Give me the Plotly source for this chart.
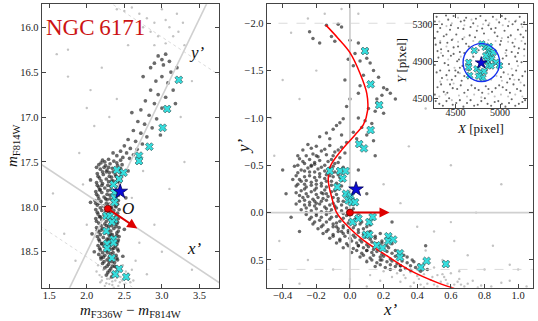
import plotly.graph_objects as go

W, H = 538, 321
FONT = "Liberation Serif"

# ---------------- data: left panel (CMD) ----------------
LEFT_DARK = [
 (2.95,16.32),(3.0,16.36),(3.05,16.3),(2.9,16.4),(3.02,16.42),(3.1,16.38),(2.85,16.45),(3.12,16.5),(3.0,16.55),
 (3.08,16.62),(2.92,16.6),(3.15,16.7),(2.85,16.7),(2.95,16.75),(3.05,16.78),(2.78,16.82),(2.9,16.85),(3.0,16.9),
 (2.72,16.92),(2.83,16.98),(2.93,17.02),(2.68,17.05),(2.77,17.08),(2.87,17.12),(2.62,17.15),(2.72,17.18),(2.8,17.22),
 (2.55,17.25),(2.65,17.27),(2.74,17.3),(2.5,17.32),(2.58,17.35),(2.67,17.36),(2.45,17.38),(2.53,17.4),(2.62,17.42),
 (2.4,17.43),(2.48,17.45),(2.57,17.46),(3.2,16.45),(2.75,16.55),(3.18,16.85),(2.6,16.95),(2.98,17.2),(2.35,17.4),
 (2.21,17.48),(2.29,17.47),(2.36,17.49),(2.45,17.48),(2.16,17.53),(2.25,17.54),(2.31,17.52),(2.41,17.54),(2.47,17.53),
 (2.18,17.58),(2.27,17.59),(2.34,17.57),(2.43,17.59),(2.14,17.63),(2.22,17.64),(2.3,17.62),(2.38,17.64),(2.46,17.63),
 (2.17,17.68),(2.26,17.69),(2.33,17.67),(2.41,17.69),(2.13,17.73),(2.21,17.74),(2.29,17.72),(2.37,17.74),(2.44,17.73),
 (2.16,17.78),(2.24,17.79),(2.32,17.77),(2.4,17.79),(2.12,17.83),(2.2,17.84),(2.28,17.82),(2.36,17.84),(2.43,17.83),
 (2.15,17.88),(2.23,17.89),(2.31,17.87),(2.39,17.89),(2.11,17.93),(2.19,17.94),(2.27,17.92),(2.35,17.94),(2.42,17.93),
 (2.14,17.98),(2.22,17.99),(2.3,17.97),(2.38,17.99),(2.12,18.03),(2.2,18.04),(2.28,18.02),(2.36,18.04),(2.43,18.03),
 (2.15,18.08),(2.23,18.09),(2.31,18.07),(2.39,18.09),(2.12,18.13),(2.2,18.14),(2.28,18.12),(2.35,18.14),(2.42,18.13),
 (2.16,18.18),(2.24,18.19),(2.32,18.17),(2.4,18.19),(2.13,18.23),(2.21,18.24),(2.29,18.22),(2.36,18.24),(2.43,18.23),
 (2.16,18.28),(2.24,18.29),(2.32,18.27),(2.4,18.29),(2.14,18.33),(2.22,18.34),(2.3,18.32),(2.37,18.34),(2.43,18.33),
 (2.17,18.38),(2.25,18.39),(2.33,18.37),(2.41,18.39),(2.15,18.43),(2.23,18.44),(2.31,18.42),(2.38,18.44),
 (2.18,18.48),(2.26,18.49),(2.34,18.47),(2.42,18.49),(2.16,18.53),(2.24,18.54),(2.32,18.52),(2.39,18.54),
 (2.19,18.58),(2.27,18.59),(2.35,18.57),(2.41,18.59),(2.21,18.63),(2.29,18.64),(2.37,18.62),(2.24,18.68),(2.32,18.69),
 (2.39,18.67),(2.28,18.73),(2.35,18.74),
 (2.19,17.51),(2.26,17.61),(2.35,17.71),(2.18,17.81),(2.25,17.91),(2.33,18.01),(2.18,18.11),(2.26,18.21),(2.34,18.31),
 (2.2,18.41),(2.28,18.51),(2.3,18.61),(2.23,17.56),(2.39,17.66),(2.2,17.76),(2.38,17.86),(2.17,17.96),(2.25,18.06),
 (2.38,18.16),(2.19,18.26),(2.27,18.36),(2.36,18.46),(2.22,18.56),(2.34,18.66),
 (2.05,17.7),(2.52,17.9),(2.07,18.3),(2.5,18.25),(2.05,17.95),(2.55,17.6),(2.1,18.5),(2.48,18.55),
 (2.24,17.5),(2.4,17.51),(2.13,17.56),(2.29,17.56),(2.45,17.57),(2.21,17.61),(2.35,17.61),(2.15,17.66),(2.3,17.66),
 (2.44,17.67),(2.19,17.71),(2.33,17.71),(2.41,17.72),(2.14,17.76),(2.28,17.76),(2.43,17.77),(2.17,17.81),(2.32,17.81),
 (2.4,17.82),(2.13,17.86),(2.27,17.86),(2.42,17.87),(2.16,17.91),(2.31,17.91),(2.38,17.92),(2.12,17.96),(2.26,17.96),
 (2.41,17.97),(2.18,18.01),(2.32,18.01),(2.39,18.0),(2.14,18.06),(2.27,18.06),(2.41,18.07),(2.17,18.11),(2.3,18.11),
 (2.38,18.12),(2.13,18.16),(2.26,18.16),(2.41,18.17),(2.19,18.21),(2.33,18.21),(2.39,18.22),(2.14,18.26),(2.28,18.26),
 (2.42,18.27),(2.18,18.31),(2.32,18.31),(2.4,18.32),(2.16,18.36),(2.29,18.36),(2.42,18.37),(2.2,18.41),(2.34,18.41),
 (2.4,18.42),(2.17,18.46),(2.3,18.46),(2.41,18.47),(2.21,18.51),(2.35,18.51),(2.19,18.56),(2.3,18.56),(2.4,18.57),
 (2.23,18.61),(2.34,18.61),(2.27,18.66),(2.37,18.66),(2.3,18.71),(2.26,18.76),(2.33,18.78),
]
LEFT_LIGHT = [
 (2.15,18.65),(2.22,18.7),(2.3,18.8),(2.38,18.82),(2.45,18.78),(2.52,18.8),(2.2,18.78),(2.26,18.85),(2.34,18.87),
 (2.42,18.88),(2.5,18.86),(2.58,18.84),(2.18,18.84),(2.28,18.75),(2.4,18.73),(2.46,18.7),(2.55,18.74),(2.62,18.82),
 (2.24,18.88),(2.36,18.9),(2.48,18.65),(2.6,18.7),(2.13,18.72),(2.32,18.68),(2.44,18.84),(2.3,18.86),(2.4,18.79),
 (2.2,18.82),(2.34,18.83),(2.47,18.82),(2.27,18.8),(2.52,18.72),(2.17,18.76),(2.42,18.76),
 (1.6,16.3),(1.75,16.55),(2.0,16.9),(2.1,17.1),(1.9,17.4),(2.4,16.8),(2.2,16.45),(1.55,17.85),(1.7,18.3),(1.85,18.6),
 (2.7,18.4),(2.9,18.2),(3.1,17.8),(3.3,17.5),(2.6,17.9),(2.65,18.6),(2.8,18.75),(3.4,18.7),(3.0,18.5),(2.55,16.2),
 (2.3,17.0),(2.05,16.7),(1.95,17.75),(2.0,18.2),(2.75,17.6),(3.25,17.0),(3.4,16.6),(3.3,16.2),(1.75,16.25),
 (2.7,15.85),(2.8,15.9),(2.9,15.95),(3.0,15.8),(3.05,15.92),(3.1,16.0),(2.95,16.1),(2.85,16.05),(3.15,16.1),
 (2.75,16.0),(3.2,15.85),(2.6,15.78),(2.5,15.82),(2.4,15.8),(2.9,16.2),(3.05,16.18),(3.22,16.05),(3.28,15.95),
]
LEFT_CYAN = [
 (3.225,16.586),(3.07,16.91),(3.01,17.12),(2.833,17.33),(2.695,17.43),(2.695,17.49),(2.40,17.59),(2.49,17.62),
 (2.43,17.69),(2.356,17.75),(2.37,17.84),(2.37,17.9),(2.37,17.95),(2.26,18.10),(2.31,18.10),(2.365,18.14),
 (2.334,18.17),(2.26,18.27),(2.356,18.36),(2.356,18.40),(2.27,18.41),(2.27,18.46),(2.334,18.57),(2.43,18.69),
 (2.38,18.75),(2.525,18.78),
]
LEFT_STAR = (2.445, 17.83)
ORIGIN_CMD = (2.28, 18.02)
ARROW_TIP_CMD = (2.672, 18.24)
XP_DIR_CMD = (1.0, 0.555)        # x' axis direction in (colour, mag)
YP_DIR_CMD = (-0.5045, 0.875)    # one unit of y' in (colour, mag)
YP_CUTS = [-2.0, 0.6]

# ---------------- data: right panel (rotated frame) ----------------
RIGHT_DARK = [
 (-0.14,-1.98),(-0.07,-1.99),(-0.05,-1.96),(-0.24,-1.91),(-0.22,-1.84),(-0.18,-1.79),(-0.11,-1.86),(-0.09,-1.81),
 (0.0,-1.82),(0.05,-1.79),(0.03,-1.68),(0.06,-1.6),(0.02,-1.55),(0.1,-1.63),(0.12,-1.58),(0.14,-1.5),(0.17,-1.43),
 (0.2,-1.32),(0.22,-1.3),(0.19,-1.24),(0.16,-1.2),(0.06,-1.34),(0.05,-1.26),(0.0,-1.2),(-0.02,-1.12),(-0.04,-0.99),
 (0.05,-1.0),(0.09,-0.97),(0.13,-0.94),(0.15,-1.07),(0.11,-1.1),(-0.06,-0.95),(0.07,-0.9),(-0.08,-0.92),(-0.1,-0.88),
 (-0.03,-1.4),(0.08,-1.45),(0.13,-1.36),(0.24,-1.26),(0.1,-1.72),(-0.01,-1.62),(0.16,-1.16),(0.2,-1.05),(0.02,-0.85),
 (-0.14,-0.84),(-0.05,-0.82),(0.1,-0.82),(0.04,-0.78),(-0.12,-0.78),(-0.18,-0.8),(0.14,-0.76),(-0.02,-0.74),(0.27,-1.2),
 (-0.25,-0.72),(-0.2,-0.7),(-0.12,-0.71),(-0.05,-0.69),(-0.28,-0.66),(-0.17,-0.65),(-0.09,-0.64),(-0.22,-0.62),
 (-0.14,-0.61),(-0.03,-0.63),(-0.31,-0.6),(-0.3,-0.57),(-0.24,-0.56),(-0.18,-0.55),(-0.11,-0.56),(-0.06,-0.58),
 (-0.27,-0.52),(-0.21,-0.51),(-0.15,-0.5),(-0.09,-0.52),(-0.33,-0.49),(-0.25,-0.47),(-0.19,-0.46),(-0.12,-0.47),
 (-0.04,-0.48),(-0.29,-0.45),(-0.31,-0.42),(-0.24,-0.43),(-0.18,-0.41),(-0.13,-0.42),(-0.07,-0.4),(-0.27,-0.38),
 (-0.21,-0.37),(-0.15,-0.36),(-0.1,-0.38),(-0.34,-0.35),(-0.29,-0.33),(-0.23,-0.32),(-0.17,-0.31),(-0.11,-0.33),
 (-0.05,-0.34),(-0.2,-0.3),(-0.32,-0.28),(-0.26,-0.27),(-0.2,-0.26),(-0.14,-0.27),(-0.08,-0.25),(-0.29,-0.23),
 (-0.23,-0.22),(-0.17,-0.21),(-0.11,-0.22),(-0.03,-0.2),(-0.3,-0.18),(-0.25,-0.17),(-0.19,-0.16),(-0.13,-0.17),
 (-0.07,-0.15),(-0.22,-0.14),(-0.3,-0.12),(-0.24,-0.11),(-0.17,-0.12),(-0.1,-0.1),(-0.04,-0.12),(-0.27,-0.08),
 (-0.21,-0.07),(-0.15,-0.06),(-0.09,-0.07),(-0.02,-0.05),(-0.29,-0.03),(-0.23,-0.02),(-0.17,-0.01),(-0.11,-0.03),
 (-0.05,-0.02),(0.02,-0.04),(-0.26,0.02),(-0.2,0.03),(-0.14,0.02),(-0.08,0.04),(-0.02,0.03),(0.04,0.05),(-0.24,0.07),
 (-0.18,0.08),(-0.12,0.07),(-0.06,0.09),(0.0,0.08),(0.07,0.1),(-0.22,0.12),(-0.16,0.13),(-0.1,0.12),(-0.04,0.14),
 (0.03,0.13),(0.1,0.15),(-0.19,0.17),(-0.13,0.18),(-0.07,0.17),(-0.01,0.19),(0.05,0.18),(0.12,0.2),(-0.16,0.22),
 (-0.1,0.23),(-0.04,0.22),(0.02,0.24),(0.08,0.23),(0.15,0.25),(-0.12,0.27),(-0.06,0.28),(0.0,0.27),(0.06,0.29),
 (0.12,0.28),(0.19,0.3),(-0.08,0.32),(-0.02,0.33),(0.04,0.32),(0.1,0.34),(0.16,0.33),(0.22,0.35),(-0.04,0.37),
 (0.02,0.38),(0.08,0.37),(0.14,0.39),(0.2,0.38),(0.27,0.4),(0.01,0.42),(0.07,0.43),(0.13,0.42),(0.19,0.44),
 (0.25,0.43),(0.32,0.45),(0.06,0.47),(0.12,0.48),(0.18,0.47),(0.24,0.49),(0.3,0.48),(0.37,0.5),(0.1,0.52),
 (0.16,0.53),(0.22,0.52),(0.28,0.54),(0.34,0.53),(0.41,0.55),(0.15,0.57),(0.21,0.58),(0.27,0.57),(0.33,0.59),
 (0.39,0.58),(0.46,0.6),(-0.4,-0.45),(-0.38,-0.2),(0.05,-0.45),(0.1,-0.2),(0.25,0.1),(-0.35,0.05),(-0.3,0.2),
 (0.45,0.35),(0.15,-0.6),(-0.2,-0.6),(-0.27,-0.3),(-0.14,-0.4),(-0.2,-0.1),(-0.12,0.0),(-0.05,0.2),(0.05,0.35),
 (0.18,0.5),(0.3,0.56),(-0.16,-0.2),(-0.23,-0.5),(-0.08,0.15),(0.1,0.4),
 (-0.23,-0.68),(-0.15,-0.67),(-0.07,-0.66),(-0.26,-0.6),(-0.19,-0.59),(-0.1,-0.6),(-0.28,-0.54),(-0.21,-0.53),
 (-0.13,-0.54),(-0.07,-0.53),(-0.31,-0.5),(-0.23,-0.49),(-0.17,-0.48),(-0.1,-0.49),(-0.27,-0.44),(-0.21,-0.43),
 (-0.15,-0.44),(-0.09,-0.43),(-0.32,-0.39),(-0.24,-0.39),(-0.18,-0.38),(-0.12,-0.39),(-0.06,-0.37),(-0.3,-0.35),
 (-0.26,-0.34),(-0.2,-0.34),(-0.14,-0.33),(-0.08,-0.31),(-0.31,-0.3),(-0.23,-0.29),(-0.17,-0.28),(-0.11,-0.29),
 (-0.05,-0.28),(-0.27,-0.25),(-0.21,-0.24),(-0.15,-0.24),(-0.09,-0.23),(-0.32,-0.21),(-0.26,-0.2),(-0.2,-0.19),
 (-0.14,-0.2),(-0.08,-0.19),(-0.28,-0.16),(-0.16,-0.15),(-0.1,-0.16),(-0.27,-0.13),(-0.21,-0.12),(-0.14,-0.13),
 (-0.07,-0.12),(-0.32,-0.09),(-0.24,-0.08),(-0.18,-0.09),(-0.12,-0.08),(-0.05,-0.08),(0.01,-0.09),(-0.26,-0.05),
 (-0.2,-0.04),(-0.14,-0.04),(-0.08,-0.05),(-0.01,-0.01),(-0.26,0.0),(-0.2,0.01),(-0.14,0.0),(-0.04,0.01),(0.05,0.01),
 (-0.23,0.05),(-0.17,0.05),(-0.11,0.05),(-0.04,0.06),(0.03,0.07),(-0.21,0.1),(-0.14,0.1),(-0.08,0.11),(-0.01,0.11),
 (0.06,0.12),(0.12,0.13),(-0.17,0.15),(-0.1,0.15),(-0.04,0.16),(0.02,0.16),(0.08,0.17),(-0.14,0.2),(-0.07,0.2),
 (-0.01,0.21),(0.05,0.21),(0.11,0.22),(0.18,0.22),(-0.1,0.25),(-0.03,0.25),(0.03,0.26),(0.09,0.26),(0.15,0.27),
 (-0.06,0.3),(0.01,0.3),(0.07,0.31),(0.13,0.31),(0.19,0.32),(0.25,0.33),(-0.01,0.35),(0.05,0.35),(0.11,0.36),
 (0.17,0.36),(0.23,0.37),(0.04,0.4),(0.1,0.4),(0.16,0.41),(0.22,0.41),(0.29,0.42),(0.08,0.45),(0.14,0.45),(0.2,0.46),
 (0.27,0.46),(0.34,0.47),(0.13,0.5),(0.19,0.5),(0.25,0.51),(0.31,0.51),(0.38,0.52),(0.18,0.55),(0.24,0.55),
 (0.3,0.56),(0.36,0.56),(0.43,0.57),(0.24,0.6),(0.3,0.61),(0.36,0.61),(0.42,0.62),
]
RIGHT_LIGHT = [
 (0.2,0.62),(0.28,0.64),(0.36,0.63),(0.44,0.65),(0.52,0.66),(0.6,0.64),(0.25,0.68),(0.33,0.69),(0.41,0.7),
 (0.49,0.68),(0.57,0.71),(0.65,0.7),(0.73,0.72),(0.3,0.73),(0.38,0.74),(0.46,0.75),(0.54,0.73),(0.62,0.76),
 (0.7,0.75),(0.78,0.77),(0.36,0.78),(0.44,0.79),(0.52,0.78),(0.6,0.79),(0.68,0.78),(0.76,0.79),(0.84,0.78),
 (0.12,0.66),(0.18,0.72),(0.9,0.74),(0.45,0.4),(0.55,0.5),(0.62,0.3),(0.7,0.45),(0.8,0.6),(0.95,0.55),(0.5,0.2),
 (0.4,0.15),(0.6,0.1),(0.85,0.35),(0.3,-0.1),(0.2,-0.3),(-0.45,-0.6),(-0.42,0.3),(-0.47,-1.0),(-0.3,-1.2),
 (0.35,-0.7),(0.45,-1.1),(0.6,-0.5),(0.75,0.0),(0.9,-0.3),(1.0,0.6),(-0.25,0.5),(-0.1,0.6),(0.1,0.5),(-0.2,-1.5),
 (0.3,-1.6),(-0.35,-1.9),(-0.15,-2.1),(-0.05,-2.15),(0.05,-2.1),(-0.25,-2.05),(-0.4,-1.4),(0.55,0.65),
 (0.95,0.72),(1.05,0.78),(0.0,0.7),(0.1,0.78),(-0.3,0.75),(0.4,0.6),(0.5,0.58),(0.65,0.62),
 (0.32,0.66),(0.4,0.67),(0.48,0.71),(0.56,0.68),(0.64,0.73),(0.42,0.76),(0.5,0.76),(0.58,0.75),(0.66,0.76),
]
RIGHT_CYAN = [
 (0.089,-1.707),(0.123,-1.355),(0.174,-1.136),(0.123,-0.872),(0.055,-0.724),(0.083,-0.678),(-0.119,-0.44),
 (-0.059,-0.44),(-0.026,-0.44),(-0.043,-0.36),(-0.075,-0.27),(-0.024,-0.2),(0.004,-0.175),(-0.01,-0.13),
 (0.01,-0.11),(0.03,-0.11),(0.016,0.1),(0.05,0.063),(0.115,0.1),(0.135,0.046),(0.095,0.233),(0.115,0.233),
 (0.228,0.25),(0.228,0.3),(0.257,0.285),(0.159,0.345),(0.194,0.374),(0.297,0.43),(0.297,0.472),(0.456,0.51),
 (0.422,0.578),(0.57,0.543),
]
RIGHT_STAR = (0.036, -0.246)
ARROW_TIP_ROT = (0.235, 0.0)
FIDUCIAL = [
 (-0.143,-1.98),(-0.07,-1.84),(0.0,-1.69),(0.06,-1.47),(0.1,-1.26),(0.105,-1.08),(0.08,-0.93),(0.03,-0.82),
 (-0.05,-0.66),(-0.119,-0.48),(-0.129,-0.34),(-0.109,-0.165),(-0.079,0.0),(-0.01,0.15),(0.079,0.29),
 (0.198,0.43),(0.357,0.61),(0.535,0.75),(0.62,0.8),
]

# ---------------- data: inset (pixel map) ----------------
INSET_DARK = [
 (4290,5380),(4350,5300),(4420,5350),(4480,5390),(4560,5330),(4620,5370),(4700,5310),(4780,5390),(4840,5340),
 (4920,5380),(4990,5320),(5060,5360),(5140,5300),(5220,5380),(5270,5320),(4300,5220),(4370,5170),(4440,5240),
 (4510,5190),(4590,5250),(4660,5180),(4740,5230),(4820,5200),(4900,5250),(4970,5170),(5050,5230),(5120,5180),
 (5200,5240),(5260,5160),(4280,5080),(4340,5030),(4410,5100),(4480,5050),(4550,5000),(4620,5090),(5000,5080),
 (5070,5020),(5140,5100),(5210,5040),(5280,5090),(4310,4940),(4380,4880),(4450,4960),(4520,4900),(4580,4850),
 (5030,4930),(5100,4870),(5170,4950),(5240,4890),(4290,4780),(4350,4720),(4430,4800),(4500,4740),(4570,4690),
 (5040,4780),(5110,4710),(5180,4800),(5250,4740),(4300,4620),(4370,4570),(4440,4650),(4520,4600),(4600,4560),
 (4680,4640),(4760,4590),(4840,4630),(4910,4570),(4990,4640),(5070,4590),(5150,4650),(5230,4580),(4280,4470),
 (4360,4420),(4430,4500),(4510,4450),(4590,4410),(4670,4480),(4750,4430),(4830,4500),(4900,4420),(4980,4470),
 (5060,4410),(5130,4490),(5210,4440),(5280,4480),(4700,4950),(4850,4800),(4760,5020),(4650,4800),(4880,4950),
 (4270,5330),(4330,5260),(4395,5395),(4450,5290),(4530,5260),(4600,5340),(4670,5270),(4730,5360),(4800,5255),
 (4870,5290),(4950,5260),(5020,5390),(5090,5280),(5170,5330),(5240,5300),(4270,5150),(4330,5100),(4400,5190),
 (4460,5130),(4530,5060),(4580,5140),(4650,5060),(4720,5160),(4940,5210),(5010,5120),(5090,5160),(5160,5060),
 (5230,5190),(5290,5230),(4300,5010),(4360,4960),(4420,5010),(4480,4980),(4540,4920),(4600,4990),(5070,4960),
 (5130,5000),(5200,4990),(5270,5030),(5020,4870),(5190,4900),(4420,4860),(4500,4800),(4550,4830),(4270,4860),
 (4330,4800),(4400,4750),(4460,4700),(4530,4780),(4600,4740),(5010,4730),(5080,4670),(5140,4750),(5210,4700),
 (5280,4790),(4270,4540),(4340,4650),(4410,4560),(4470,4610),(4560,4640),(4640,4590),(4720,4610),(4800,4560),
 (4870,4600),(4950,4610),(5030,4620),(5110,4560),(5190,4600),(5270,4640),(4320,4440),(4400,4470),(4470,4430),
 (4550,4480),(4630,4450),(4710,4420),(4790,4470),(4860,4440),(4940,4460),(5020,4440),(5100,4450),(5170,4420),
 (5250,4460),
]
INSET_LIGHT = [
 (4320,5330),(4400,5280),(4460,5310),(4530,5370),(4600,5290),(4680,5350),(4750,5280),(4810,5300),(4880,5310),
 (4960,5350),(5030,5290),(5100,5330),(5180,5340),(5250,5270),(4330,5120),(4400,5060),(4470,5140),(4530,5110),
 (4600,5160),(4700,5120),(4870,5130),(4950,5120),(5020,5150),(5090,5110),(5170,5140),(5240,5120),(4340,4990),
 (4420,4920),(4490,4830),(4560,4950),(5060,4990),(5130,4820),(5200,4850),(5270,4960),(4330,4680),(4410,4700),
 (4480,4660),(4550,4770),(4640,4710),(4900,4700),(4960,4740),(5020,4690),(5090,4760),(5160,4700),(5230,4670),
 (4320,4520),(4390,4540),(4460,4480),(4540,4530),(4630,4520),(4710,4540),(4790,4510),(4870,4550),(4940,4520),
 (5010,4540),(5090,4520),(5170,4540),(5250,4520),
]
INSET_CYAN = [
 (4711,5016),(4648,4889),(4659,4746),(4741,4818),(4778,4781),(4822,4792),(4807,4721),(4833,5051),(4870,5016),
 (4889,4980),(4925,4997),(4907,4926),(4955,4889),(4992,4854),(4870,4854),(4852,4908),(4648,4835),(4796,5088),
 (4840,4960),(4900,4850),(4760,4740),(4880,5060),
]
INSET_STAR = (4790, 4883)
CIRCLE_CENTER = (4791, 4886)
CIRCLE_RADIUS = 205

# ---------------- axis ranges / ticks ----------------
L_XRANGE = [1.4, 3.76]; L_YRANGE = [18.9, 15.745]
L_XTICKS = [1.5, 2.0, 2.5, 3.0, 3.5]; L_YTICKS = [16.0, 16.5, 17.0, 17.5, 18.0, 18.5]
R_XRANGE = [-0.495, 1.09]; R_YRANGE = [0.793, -2.2]
R_XTICKS = [-0.4, -0.2, 0.0, 0.2, 0.4, 0.6, 0.8, 1.0]; R_YTICKS = [-2.0, -1.5, -1.0, -0.5, 0.0, 0.5]
I_XRANGE = [4255, 5298]; I_YRANGE = [4392, 5411]
I_XTICKS = [4500, 5000]; I_YTICKS = [4500, 4900, 5300]

DARK = "rgba(35,35,35,0.68)"
LIGHT = "rgba(180,180,180,0.8)"
CYAN = "#35dede"
GUIDE = "#d0d0d0"


def xs(pts):
    return [p[0] for p in pts]


def ys(pts):
    return [p[1] for p in pts]


fig = go.Figure()


def dots(pts, color, size, xa, ya):
    fig.add_trace(go.Scatter(x=xs(pts), y=ys(pts), mode="markers", xaxis=xa, yaxis=ya,
                             marker=dict(color=color, size=size, line=dict(width=0)),
                             hoverinfo="skip", showlegend=False))


def guide(x, y, xa, ya, width=1.6, dash="solid", color=GUIDE):
    fig.add_trace(go.Scatter(x=x, y=y, mode="lines", xaxis=xa, yaxis=ya,
                             line=dict(color=color, width=width, dash=dash),
                             hoverinfo="skip", showlegend=False))


def cyan(pts, xa, ya, size):
    fig.add_trace(go.Scatter(x=xs(pts), y=ys(pts), mode="markers", xaxis=xa, yaxis=ya,
                             marker=dict(symbol="x", color=CYAN, size=size,
                                         line=dict(color="#2a4a4a", width=0.6)),
                             hoverinfo="skip", showlegend=False))


def star(pt, xa, ya, size):
    fig.add_trace(go.Scatter(x=[pt[0]], y=[pt[1]], mode="markers", xaxis=xa, yaxis=ya,
                             marker=dict(symbol="star", color="#0a0ad8", size=size,
                                         line=dict(color="#000055", width=0.8)),
                             hoverinfo="skip", showlegend=False))


def origin(pt, xa, ya):
    fig.add_trace(go.Scatter(x=[pt[0]], y=[pt[1]], mode="markers", xaxis=xa, yaxis=ya,
                             marker=dict(color="#ee0000", size=7, line=dict(color="#550000", width=0.8)),
                             hoverinfo="skip", showlegend=False))


# ----- left panel -----
dots(LEFT_LIGHT, LIGHT, 2.4, "x", "y")
dots(LEFT_DARK, DARK, 3.7, "x", "y")
ox, oy = ORIGIN_CMD
ux, uy = XP_DIR_CMD
vx, vy = YP_DIR_CMD
guide([ox - 2 * ux, ox + 2 * ux], [oy - 2 * uy, oy + 2 * uy], "x", "y")
guide([ox - 3 * vx, ox + 2 * vx], [oy - 3 * vy, oy + 2 * vy], "x", "y")
for c in YP_CUTS:
    cx, cy = ox + c * vx, oy + c * vy
    guide([cx - 2 * ux, cx + 2 * ux], [cy - 2 * uy, cy + 2 * uy], "x", "y", width=0.8, dash="dot")
cyan(LEFT_CYAN, "x", "y", 7)
star(LEFT_STAR, "x", "y", 11)

# ----- right panel -----
dots(RIGHT_LIGHT, LIGHT, 2.4, "x2", "y2")
dots(RIGHT_DARK, DARK, 3.5, "x2", "y2")
guide([0, 0], [R_YRANGE[0] + 1, R_YRANGE[1] - 1], "x2", "y2", width=1.8)
guide([R_XRANGE[0] - 1, R_XRANGE[1] + 1], [0, 0], "x2", "y2", width=1.8)
for c in YP_CUTS:
    guide([R_XRANGE[0] - 1, R_XRANGE[1] + 1], [c, c], "x2", "y2", width=0.8, dash="dash")
fig.add_trace(go.Scatter(x=xs(FIDUCIAL), y=ys(FIDUCIAL), mode="lines", xaxis="x2", yaxis="y2",
                         line=dict(color="#ff0000", width=1.5, shape="spline"),
                         hoverinfo="skip", showlegend=False))
cyan(RIGHT_CYAN, "x2", "y2", 7)
star(RIGHT_STAR, "x2", "y2", 11)

# ----- inset -----
dots(INSET_LIGHT, LIGHT, 2.1, "x3", "y3")
dots(INSET_DARK, DARK, 2.1, "x3", "y3")
cyan(INSET_CYAN, "x3", "y3", 6)
star(INSET_STAR, "x3", "y3", 9)

annotations = [
    dict(x=ARROW_TIP_CMD[0], y=ARROW_TIP_CMD[1], ax=ox, ay=oy, xref="x", yref="y", axref="x", ayref="y",
         text="", showarrow=True, arrowhead=2, arrowsize=1.0, arrowwidth=2, arrowcolor="#dd0000"),
    dict(x=ARROW_TIP_ROT[0], y=ARROW_TIP_ROT[1], ax=0, ay=0, xref="x2", yref="y2", axref="x2", ayref="y2",
         text="", showarrow=True, arrowhead=2, arrowsize=1.0, arrowwidth=2, arrowcolor="#dd0000"),
]
origin(ORIGIN_CMD, "x", "y")
origin((0, 0), "x2", "y2")


def px(xp):
    return xp / W


def py(yp):
    return 1 - yp / H


def label(text, xp, yp, size, angle=0, color="#111"):
    annotations.append(dict(text=text, x=px(xp), y=py(yp), xref="paper", yref="paper",
                            showarrow=False, textangle=angle, xanchor="center", yanchor="middle",
                            font=dict(family=FONT, size=size, color=color)))


label("NGC\u20096171", 95, 27, 23, color="#cc1414")
label("<i>y’</i>", 197, 52, 17)
label("<i>x’</i>", 194, 248, 17)
label("<i>O</i>", 128, 208, 17)
label("<i>m</i><sub>F336W</sub> − <i>m</i><sub>F814W</sub>", 130, 311, 15)
label("<i>m</i><sub>F814W</sub>", 13, 146, 15, angle=-90)
label("<i>x’</i>", 390, 309, 17)
label("<i>y’</i>", 243, 146, 17, angle=-90)
label("<i>X</i> [pixel]", 480, 128, 13)
label("<i>Y</i> [pixel]", 401, 61, 13, angle=-90)

axis_common = dict(showline=True, linecolor="#444", linewidth=1, mirror="ticks", ticks="inside",
                   ticklen=4, tickwidth=1, tickcolor="#444", showgrid=False, zeroline=False,
                   tickfont=dict(family=FONT, size=10.5, color="#222"))
inset_axis = dict(axis_common, tickfont=dict(family=FONT, size=10, color="#222"))

fig.update_layout(
    width=W, height=H, margin=dict(l=0, r=0, t=0, b=0),
    paper_bgcolor="white", plot_bgcolor="white", showlegend=False,
    annotations=annotations,
    xaxis=dict(domain=[px(41.7), px(219)], range=L_XRANGE, tickvals=L_XTICKS, tickformat=".1f",
               anchor="y", ticklabelstandoff=-2, **axis_common),
    yaxis=dict(domain=[py(287.7), py(4.3)], range=L_YRANGE, tickvals=L_YTICKS, tickformat=".1f",
               anchor="x", **axis_common),
    xaxis2=dict(domain=[px(266.7), px(533.3)], range=R_XRANGE, tickvals=R_XTICKS, tickformat=".1f",
                anchor="y2", ticklabelstandoff=-2, **axis_common),
    yaxis2=dict(domain=[py(287.7), py(4.3)], range=R_YRANGE, tickvals=R_YTICKS, tickformat=".1f",
                anchor="x2", **axis_common),
    xaxis3=dict(domain=[px(433.5), px(526.7)], range=I_XRANGE, tickvals=I_XTICKS, tickformat="d",
                anchor="y3", ticklabelstandoff=-5, **inset_axis),
    yaxis3=dict(domain=[py(108.3), py(14)], range=I_YRANGE, tickvals=I_YTICKS, tickformat="d",
                anchor="x3", ticklabelstandoff=-2, **inset_axis),
    shapes=[dict(type="circle", xref="x3", yref="y3",
                 x0=CIRCLE_CENTER[0] - CIRCLE_RADIUS, x1=CIRCLE_CENTER[0] + CIRCLE_RADIUS,
                 y0=CIRCLE_CENTER[1] - CIRCLE_RADIUS, y1=CIRCLE_CENTER[1] + CIRCLE_RADIUS,
                 line=dict(color="#1530ee", width=1.4), layer="above")],
)

fig.write_html("out.html", config={"displayModeBar": False},
               post_script="document.body.style.margin='0';document.body.style.overflow='hidden';")
